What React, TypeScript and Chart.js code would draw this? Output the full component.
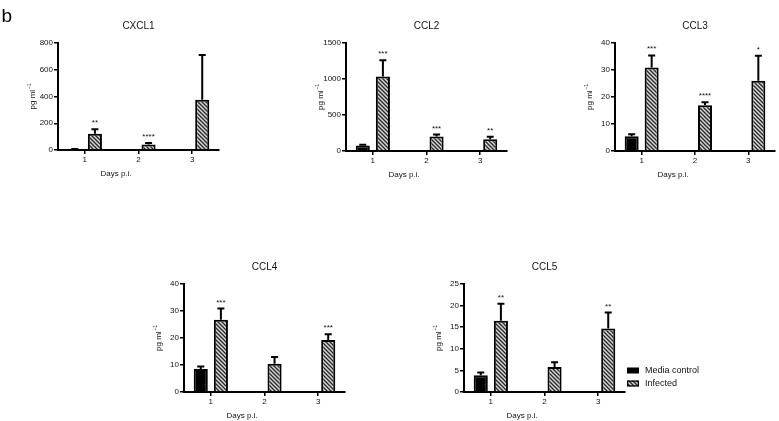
import React, { useEffect, useRef } from 'react';
import { Chart, registerables } from 'chart.js';
Chart.register(...registerables);

// ---------- data ----------
const days = ['1', '2', '3'];
const seriesLabels = ['Media control', 'Infected'];

const cxcl1Control = [5, null, null];
const cxcl1ControlErr = [3, null, null];
const cxcl1Infected = [122, 42, 375];
const cxcl1InfectedErr = [33, 10, 335];
const cxcl1Stars = ['**', '****', ''];
const cxcl1Ticks = [0, 200, 400, 600, 800];

const ccl2Control = [75, null, null];
const ccl2ControlErr = [12, null, null];
const ccl2Infected = [1035, 200, 163];
const ccl2InfectedErr = [225, 28, 35];
const ccl2Stars = ['***', '***', '**'];
const ccl2Ticks = [0, 500, 1000, 1500];

const ccl3Control = [5.5, null, null];
const ccl3ControlErr = [0.7, null, null];
const ccl3Infected = [30.9, 16.9, 26.0];
const ccl3InfectedErr = [4.5, 1.2, 9.3];
const ccl3Stars = ['***', '****', '*'];
const ccl3Ticks = [0, 10, 20, 30, 40];

const ccl4Control = [8.5, null, null];
const ccl4ControlErr = [0.9, null, null];
const ccl4Infected = [26.8, 10.5, 19.3];
const ccl4InfectedErr = [4.1, 2.5, 2.1];
const ccl4Stars = ['***', '', '***'];
const ccl4Ticks = [0, 10, 20, 30, 40];

const ccl5Control = [3.9, null, null];
const ccl5ControlErr = [0.6, null, null];
const ccl5Infected = [16.5, 5.8, 14.7];
const ccl5InfectedErr = [3.9, 1.1, 3.7];
const ccl5Stars = ['**', '', '**'];
const ccl5Ticks = [0, 5, 10, 15, 20, 25];

// ---------- layout ----------
const W = 779;
const H = 421;
const FONT = '"Liberation Sans", Arial, Helvetica, sans-serif';
const TEXT = '#111';
const Y_W = 40;
const X_H = 30;

type PanelDef = {
  title: string;
  control: (number | null)[];
  controlErr: (number | null)[];
  infected: (number | null)[];
  infectedErr: (number | null)[];
  stars: string[];
  ticks: number[];
  box: { l: number; r: number; t: number; b: number };
  letter?: boolean;
  legend?: boolean;
};

const panels: PanelDef[] = [
  { title: 'CXCL1', control: cxcl1Control, controlErr: cxcl1ControlErr, infected: cxcl1Infected, infectedErr: cxcl1InfectedErr, stars: cxcl1Stars, ticks: cxcl1Ticks, box: { l: 58, r: 219, t: 43, b: 150 }, letter: true },
  { title: 'CCL2', control: ccl2Control, controlErr: ccl2ControlErr, infected: ccl2Infected, infectedErr: ccl2InfectedErr, stars: ccl2Stars, ticks: ccl2Ticks, box: { l: 346, r: 507, t: 43, b: 151 } },
  { title: 'CCL3', control: ccl3Control, controlErr: ccl3ControlErr, infected: ccl3Infected, infectedErr: ccl3InfectedErr, stars: ccl3Stars, ticks: ccl3Ticks, box: { l: 615, r: 775, t: 43, b: 151 } },
  { title: 'CCL4', control: ccl4Control, controlErr: ccl4ControlErr, infected: ccl4Infected, infectedErr: ccl4InfectedErr, stars: ccl4Stars, ticks: ccl4Ticks, box: { l: 184, r: 345, t: 284, b: 392 } },
  { title: 'CCL5', control: ccl5Control, controlErr: ccl5ControlErr, infected: ccl5Infected, infectedErr: ccl5InfectedErr, stars: ccl5Stars, ticks: ccl5Ticks, box: { l: 464, r: 625, t: 284, b: 392 }, legend: true },
];

function makeHatch(ctx: CanvasRenderingContext2D): CanvasPattern | string {
  const s = 4;
  const c = document.createElement('canvas');
  c.width = s;
  c.height = s;
  const g = c.getContext('2d');
  if (!g) return '#999';
  g.fillStyle = '#d6d6d6';
  g.fillRect(0, 0, s, s);
  g.strokeStyle = '#262626';
  g.lineWidth = 1.3;
  g.beginPath();
  g.moveTo(0, 0);
  g.lineTo(s, s);
  g.moveTo(-1, s - 1);
  g.lineTo(1, s + 1);
  g.moveTo(s - 1, -1);
  g.lineTo(s + 1, 1);
  g.stroke();
  return ctx.createPattern(c, 'repeat') || '#999';
}

function decoPlugin(p: PanelDef, hatch: CanvasPattern | string) {
  return {
    id: 'panelDeco',
    afterDatasetsDraw(chart: any) {
      const ctx: CanvasRenderingContext2D = chart.ctx;
      const ca = chart.chartArea;
      const ys = chart.scales.y;
      const errs = [p.controlErr, p.infectedErr];
      ctx.save();
      // error bars + stars
      [0, 1].forEach((di) => {
        const meta = chart.getDatasetMeta(di);
        const vals = chart.data.datasets[di].data;
        meta.data.forEach((el: any, j: number) => {
          const v = vals[j];
          const e = errs[di][j];
          if (v == null || e == null) return;
          const y0 = ys.getPixelForValue(v);
          const y1 = ys.getPixelForValue(v + e);
          ctx.strokeStyle = '#000';
          ctx.lineWidth = 2;
          ctx.lineCap = 'butt';
          ctx.beginPath();
          ctx.moveTo(el.x, y0);
          ctx.lineTo(el.x, y1);
          ctx.moveTo(el.x - 3.5, y1);
          ctx.lineTo(el.x + 3.5, y1);
          ctx.stroke();
          if (di === 1 && p.stars[j]) {
            ctx.fillStyle = TEXT;
            ctx.font = `8px ${FONT}`;
            ctx.textAlign = 'center';
            ctx.textBaseline = 'alphabetic';
            ctx.fillText(p.stars[j], el.x, y1 - 4);
          }
        });
      });
      // title
      ctx.fillStyle = TEXT;
      ctx.font = `10px ${FONT}`;
      ctx.textAlign = 'center';
      ctx.textBaseline = 'middle';
      ctx.fillText(p.title, (ca.left + ca.right) / 2, ca.top - 16.5);
      // x title
      ctx.font = `8px ${FONT}`;
      ctx.fillText('Days p.i.', ca.left + 58, ca.bottom + 23.5);
      // y title with superscript
      ctx.save();
      ctx.translate(ca.left - 26, (ca.top + ca.bottom) / 2);
      ctx.rotate(-Math.PI / 2);
      ctx.textAlign = 'left';
      ctx.textBaseline = 'alphabetic';
      ctx.font = `8px ${FONT}`;
      const main = 'pg ml';
      const w1 = ctx.measureText(main).width;
      ctx.font = `5.5px ${FONT}`;
      const sup = '\u22121';
      const w2 = ctx.measureText(sup).width;
      const x0 = -(w1 + w2) / 2;
      ctx.font = `8px ${FONT}`;
      ctx.fillText(main, x0, 3);
      ctx.font = `5.5px ${FONT}`;
      ctx.fillText(sup, x0 + w1 + 0.5, -1.5);
      ctx.restore();
      // panel letter
      if (p.letter) {
        ctx.font = `19px ${FONT}`;
        ctx.textAlign = 'left';
        ctx.textBaseline = 'alphabetic';
        ctx.fillStyle = '#000';
        ctx.fillText('b', 1.5, 22);
      }
      // legend
      if (p.legend) {
        const lx = ca.right + 2;
        const rows = [ca.top + 83.5, ca.top + 96.5];
        rows.forEach((ry, i) => {
          if (i === 0) {
            ctx.fillStyle = '#000';
            ctx.fillRect(lx, ry, 12, 6);
          } else {
            ctx.fillStyle = hatch as any;
            ctx.fillRect(lx, ry, 12, 6);
            ctx.strokeStyle = '#000';
            ctx.lineWidth = 1.2;
            ctx.strokeRect(lx + 0.6, ry + 0.6, 10.8, 4.8);
          }
          ctx.fillStyle = TEXT;
          ctx.font = `9px ${FONT}`;
          ctx.textAlign = 'left';
          ctx.textBaseline = 'middle';
          ctx.fillText(seriesLabels[i], lx + 18, ry + 3);
        });
      }
      ctx.restore();
    },
  };
}

function Panel({ p }: { p: PanelDef }) {
  const ref = useRef<HTMLCanvasElement | null>(null);
  useEffect(() => {
    const canvas = ref.current;
    if (!canvas) return;
    const ctx = canvas.getContext('2d');
    if (!ctx) return;
    const hatch = makeHatch(ctx);
    const { l, r, t, b } = p.box;
    const max = p.ticks[p.ticks.length - 1];
    const step = p.ticks[1] - p.ticks[0];
    const tickFont = { size: 8, family: FONT };
    const chart = new Chart(ctx, {
      type: 'bar',
      data: {
        labels: days,
        datasets: [
          {
            label: seriesLabels[0],
            data: p.control as any,
            backgroundColor: '#000',
            borderColor: '#000',
            borderWidth: 2,
            categoryPercentage: 0.75,
            barPercentage: 0.7,
          },
          {
            label: seriesLabels[1],
            data: p.infected as any,
            backgroundColor: hatch as any,
            borderColor: '#000',
            borderWidth: 2,
            categoryPercentage: 0.75,
            barPercentage: 0.7,
          },
        ],
      },
      options: {
        responsive: false,
        animation: false,
        events: [],
        layout: { padding: { left: l - Y_W, right: W - r, top: t, bottom: H - b - X_H } },
        plugins: { legend: { display: false }, tooltip: { enabled: false }, title: { display: false } },
        scales: {
          x: {
            type: 'category',
            offset: true,
            grid: { display: true, drawOnChartArea: false, drawTicks: true, offset: false, tickLength: 4, color: '#000', lineWidth: 1.5 },
            border: { display: true, color: '#000', width: 2 },
            ticks: { color: TEXT, font: tickFont, padding: 1, maxRotation: 0 },
            afterFit: (s: any) => { s.height = X_H; },
          },
          y: {
            min: 0,
            max,
            grid: { drawOnChartArea: false, drawTicks: true, tickLength: 4, color: '#000', lineWidth: 1.5 },
            border: { display: true, color: '#000', width: 2 },
            ticks: { stepSize: step, color: TEXT, font: tickFont, padding: 1, callback: (v: any) => String(v) },
            afterFit: (s: any) => { s.width = Y_W; },
          },
        },
      } as any,
      plugins: [decoPlugin(p, hatch)],
    });
    return () => chart.destroy();
  }, [p]);
  return (
    <canvas
      ref={ref}
      width={W}
      height={H}
      style={{ position: 'absolute', left: 0, top: 0, width: W, height: H }}
    />
  );
}

export default function App() {
  return (
    <div style={{ position: 'fixed', left: 0, top: 0, width: W, height: H, background: '#fff', overflow: 'hidden' }}>
      {panels.map((p) => (
        <Panel key={p.title} p={p} />
      ))}
    </div>
  );
}
